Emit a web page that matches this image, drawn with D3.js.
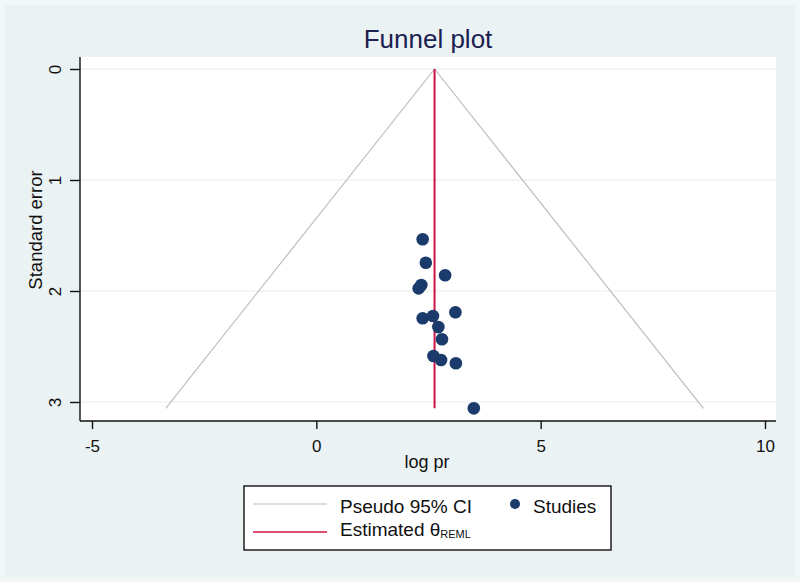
<!DOCTYPE html>
<html>
<head>
<meta charset="utf-8">
<script src="https://cdn.jsdelivr.net/npm/d3@7"></script>
<style>
  body { margin: 0; background: #eaf2f3; }
  svg text { font-family: "Liberation Sans", Arial, sans-serif; }
</style>
</head>
<body>
<div id="graph"></div>
<script>
// studies: log pr and standard error
const logPr = [2.37, 2.44, 2.87, 2.34, 2.28, 3.10, 2.37, 2.60, 2.72, 2.80, 2.61, 2.78, 3.11, 3.51];
const stdErr = [1.534, 1.745, 1.858, 1.946, 1.976, 2.192, 2.246, 2.225, 2.325, 2.435, 2.586, 2.622, 2.651, 3.057];
const thetaReml = 2.635;
const seMax = 3.057;
const xTicks = [-5, 0, 5, 10];
const yTicks = [0, 1, 2, 3];

const W = 800, H = 582;
const plot = {left: 80, right: 776, top: 57, bottom: 421};

const svg = d3.select('#graph')
  .append('svg')
    .attr('width', W)
    .attr('height', H);

svg.append('rect')
  .attr('x', 2.5).attr('y', 2.5)
  .attr('width', W - 5).attr('height', H - 5)
  .attr('fill', '#eaf2f3')
  .attr('stroke', '#f1f6f7')
  .attr('stroke-width', 5);

svg.append('rect')
  .attr('x', plot.left).attr('y', plot.top)
  .attr('width', plot.right - plot.left)
  .attr('height', plot.bottom - plot.top)
  .attr('fill', '#ffffff');

let x = d3.scaleLinear()
  .domain([-5, 10])
  .range([92, 765]);
let y = d3.scaleLinear()
  .domain([0, 3])
  .range([69, 402]);

// gridlines
svg.selectAll('.grid')
  .data(yTicks)
  .enter()
    .append('line')
      .attr('x1', plot.left)
      .attr('x2', plot.right)
      .attr('y1', d => y(d))
      .attr('y2', d => y(d))
      .attr('stroke', '#e3edf0')
      .attr('stroke-width', 1.2);

// pseudo 95% CI
const ciLeft = [[thetaReml, 0], [thetaReml - 1.96 * seMax, seMax]];
const ciRight = [[thetaReml, 0], [thetaReml + 1.96 * seMax, seMax]];
const line = d3.line().x(d => x(d[0])).y(d => y(d[1]));
[ciLeft, ciRight].forEach(pts => {
  svg.append('path')
    .attr('d', line(pts))
    .attr('fill', 'none')
    .attr('stroke', '#bdbdbd')
    .attr('stroke-width', 1.2);
});

// estimated theta
svg.append('line')
  .attr('x1', x(thetaReml)).attr('x2', x(thetaReml))
  .attr('y1', y(0)).attr('y2', y(seMax))
  .attr('stroke', '#cc1343')
  .attr('stroke-width', 2);

svg.selectAll('circle.study')
  .data(logPr)
  .enter()
    .append('circle')
      .attr('class', 'study')
      .attr('cx', d => x(d))
      .attr('cy', (d, i) => y(stdErr[i]))
      .attr('r', 6.3)
      .attr('fill', '#1a3b6b');

// axes
const fmt = d => (d < 0 ? '-' + Math.abs(d) : String(d));
let xAxis = d3.axisBottom(x).tickValues(xTicks).tickFormat(fmt).tickSize(8).tickSizeOuter(0);
let yAxis = d3.axisLeft(y).tickValues(yTicks).tickFormat(fmt).tickSize(10).tickSizeOuter(0);

const gx = svg.append('g')
  .attr('transform', `translate(0,${plot.bottom})`)
  .call(xAxis);
gx.select('.domain').attr('d', `M${plot.left},0H${plot.right}`);

const gy = svg.append('g')
  .attr('transform', `translate(${plot.left},0)`)
  .call(yAxis);
gy.select('.domain').attr('d', `M0,${plot.top}V${plot.bottom}`);

[gx, gy].forEach(g => {
  g.selectAll('.domain').attr('stroke', '#111').attr('stroke-width', 1.4);
  g.selectAll('.tick line').attr('stroke', '#111').attr('stroke-width', 1.4);
  g.selectAll('.tick text')
    .attr('fill', '#111')
    .style('font-size', '17px');
});
gx.selectAll('.tick text').attr('y', 31).attr('dy', 0);
gy.selectAll('.tick text')
  .attr('text-anchor', 'middle')
  .attr('dy', 0)
  .attr('x', 0)
  .attr('y', 0)
  .attr('transform', 'translate(-19,0) rotate(-90)');

// titles
svg.append('text')
  .attr('x', (plot.left + plot.right) / 2)
  .attr('y', 48)
  .attr('text-anchor', 'middle')
  .attr('fill', '#1a2050')
  .style('font-size', '26px')
  .text('Funnel plot');

svg.append('text')
  .attr('x', 427)
  .attr('y', 468)
  .attr('text-anchor', 'middle')
  .attr('fill', '#111')
  .style('font-size', '18px')
  .text('log pr');

svg.append('text')
  .attr('transform', 'translate(41.5,230) rotate(-90)')
  .attr('text-anchor', 'middle')
  .attr('fill', '#111')
  .style('font-size', '18.5px')
  .text('Standard error');

// legend
const lg = svg.append('g');
lg.append('rect')
  .attr('x', 244).attr('y', 486)
  .attr('width', 367).attr('height', 64)
  .attr('fill', '#ffffff')
  .attr('stroke', '#111')
  .attr('stroke-width', 1.4);
lg.append('line')
  .attr('x1', 253).attr('x2', 327)
  .attr('y1', 504).attr('y2', 504)
  .attr('stroke', '#bdbdbd').attr('stroke-width', 1.2);
lg.append('text')
  .attr('x', 340).attr('y', 513)
  .attr('fill', '#111')
  .style('font-size', '19px')
  .text('Pseudo 95% CI');
lg.append('circle')
  .attr('cx', 515).attr('cy', 504)
  .attr('r', 5)
  .attr('fill', '#1a3b6b');
lg.append('text')
  .attr('x', 533).attr('y', 513)
  .attr('fill', '#111')
  .style('font-size', '19px')
  .text('Studies');
lg.append('line')
  .attr('x1', 253).attr('x2', 327)
  .attr('y1', 532).attr('y2', 532)
  .attr('stroke', '#cc1343').attr('stroke-width', 1.6);
const est = lg.append('text')
  .attr('x', 340).attr('y', 536)
  .attr('fill', '#111')
  .style('font-size', '19px');
est.append('tspan').text('Estimated θ');
est.append('tspan')
  .style('font-size', '11px')
  .attr('dy', 2)
  .text('REML');
</script>
</body>
</html>
